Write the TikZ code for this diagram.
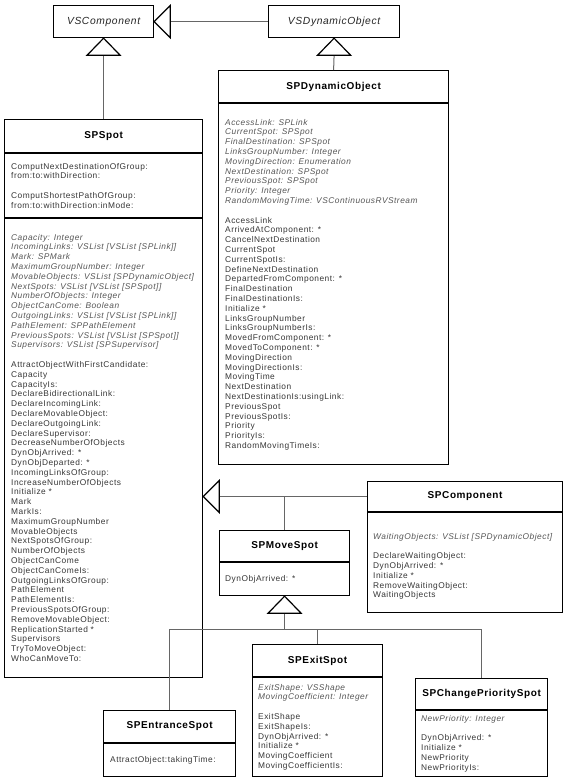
\documentclass[tikz,border=0pt]{standalone}
\usepackage{fontspec}
\setmainfont{Liberation Sans}[LetterSpace=6]
\usetikzlibrary{calc}
\definecolor{attrc}{HTML}{555555}
\definecolor{opc}{HTML}{363636}
\definecolor{connc}{HTML}{666666}
\begin{document}
\begin{tikzpicture}[x=1pt,y=-1pt,
  cbox/.style={draw=black, line width=1.2pt, fill=white, inner sep=0pt, anchor=north west},
  ctitle/.style={font=\fontsize{10}{12}\selectfont\bfseries, inner sep=0pt},
  vtitle/.style={font=\fontsize{10.3}{12}\selectfont\itshape, text=black!85},
  atxt/.style={font=\fontsize{8.35}{9.8}\selectfont\itshape, text=attrc, align=left, anchor=north west, inner sep=0pt},
  otxt/.style={font=\fontsize{8.35}{9.8}\selectfont, text=opc, align=left, anchor=north west, inner sep=0pt},
  sepline/.style={draw=black, line width=1.2pt},
  conn/.style={draw=connc, line width=1pt},
  gentri/.style={draw=black, line width=1.2pt, fill=white, line join=miter}
]
\fill[white] (0,0) rectangle (567,780);
\useasboundingbox (0,0) rectangle (567,780);

% VSComponent / VSDynamicObject
\node[cbox, vtitle, minimum width=100pt, minimum height=32pt] (vscomp) at (53,5) {VSComponent};
\node[cbox, vtitle, minimum width=131pt, minimum height=32pt] (vsdyn) at (268,5) {VSDynamicObject};

% SPSpot
\node[cbox, minimum width=198pt, minimum height=558pt] (spspot) at (4,119) {};
\node[ctitle] (spspotT) at ($(spspot.north)+(0,17)$) {SPSpot};
\draw[sepline] ($(spspot.north west)+(0,34)$) -- ($(spspot.north east)+(0,34)$);
\draw[sepline] ($(spspot.north west)+(0,99)$) -- ($(spspot.north east)+(0,99)$);
\node[otxt] (spspotO1) at (11,162) {\strut ComputNextDestinationOfGroup:\\ from:to:withDirection:\\[9.8pt] ComputShortestPathOfGroup:\\ from:to:withDirection:inMode:};
\node[atxt] (spspotA) at (11,233) {\strut Capacity: Integer\\ IncomingLinks: VSList [VSList [SPLink]]\\ Mark: SPMark\\ MaximumGroupNumber: Integer\\ MovableObjects: VSList [SPDynamicObject]\\ NextSpots: VSList [VSList [SPSpot]]\\ NumberOfObjects: Integer\\ ObjectCanCome: Boolean\\ OutgoingLinks: VSList [VSList [SPLink]]\\ PathElement: SPPathElement\\ PreviousSpots: VSList [VSList [SPSpot]]\\ Supervisors: VSList [SPSupervisor]};
\node[otxt] (spspotO2) at (11,360.4) {\strut AttractObjectWithFirstCandidate:\\ Capacity\\ CapacityIs:\\ DeclareBidirectionalLink:\\ DeclareIncomingLink:\\ DeclareMovableObject:\\ DeclareOutgoingLink:\\ DeclareSupervisor:\\ DecreaseNumberOfObjects\\ DynObjArrived: *\\ DynObjDeparted: *\\ IncomingLinksOfGroup:\\ IncreaseNumberOfObjects\\ Initialize *\\ Mark\\ MarkIs:\\ MaximumGroupNumber\\ MovableObjects\\ NextSpotsOfGroup:\\ NumberOfObjects\\ ObjectCanCome\\ ObjectCanComeIs:\\ OutgoingLinksOfGroup:\\ PathElement\\ PathElementIs:\\ PreviousSpotsOfGroup:\\ RemoveMovableObject:\\ ReplicationStarted *\\ Supervisors\\ TryToMoveObject:\\ WhoCanMoveTo:};

% SPDynamicObject
\node[cbox, minimum width=230pt, minimum height=394pt] (spdyn) at (218,70) {};
\node[ctitle] (spdynT) at ($(spdyn.north)+(0,16.5)$) {SPDynamicObject};
\draw[sepline] ($(spdyn.north west)+(0,33)$) -- ($(spdyn.north east)+(0,33)$);
\node[atxt] (spdynA) at (225,118) {\strut AccessLink: SPLink\\ CurrentSpot: SPSpot\\ FinalDestination: SPSpot\\ LinksGroupNumber: Integer\\ MovingDirection: Enumeration\\ NextDestination: SPSpot\\ PreviousSpot: SPSpot\\ Priority: Integer\\ RandomMovingTime: VSContinuousRVStream};
\node[otxt] (spdynO) at (225,216) {\strut AccessLink\\ ArrivedAtComponent: *\\ CancelNextDestination\\ CurrentSpot\\ CurrentSpotIs:\\ DefineNextDestination\\ DepartedFromComponent: *\\ FinalDestination\\ FinalDestinationIs:\\ Initialize *\\ LinksGroupNumber\\ LinksGroupNumberIs:\\ MovedFromComponent: *\\ MovedToComponent: *\\ MovingDirection\\ MovingDirectionIs:\\ MovingTime\\ NextDestination\\ NextDestinationIs:usingLink:\\ PreviousSpot\\ PreviousSpotIs:\\ Priority\\ PriorityIs:\\ RandomMovingTimeIs:};

% SPComponent
\node[cbox, minimum width=195pt, minimum height=131pt] (spcomp) at (367,481) {};
\node[ctitle] (spcompT) at ($(spcomp.north)+(0,15.5)$) {SPComponent};
\draw[sepline] ($(spcomp.north west)+(0,31)$) -- ($(spcomp.north east)+(0,31)$);
\node[atxt] (spcompA) at (373,532) {\strut WaitingObjects: VSList [SPDynamicObject]};
\node[otxt] (spcompO) at (373,551.6) {\strut DeclareWaitingObject:\\ DynObjArrived: *\\ Initialize *\\ RemoveWaitingObject:\\ WaitingObjects};

% SPMoveSpot
\node[cbox, minimum width=130pt, minimum height=65pt] (spmove) at (219,530) {};
\node[ctitle] (spmoveT) at ($(spmove.north)+(0,16)$) {SPMoveSpot};
\draw[sepline] ($(spmove.north west)+(0,32)$) -- ($(spmove.north east)+(0,32)$);
\node[otxt] (spmoveO) at (225,574) {\strut DynObjArrived: *};

% SPEntranceSpot
\node[cbox, minimum width=132pt, minimum height=66pt] (spentr) at (103,710) {};
\node[ctitle] (spentrT) at ($(spentr.north)+(0,16.5)$) {SPEntranceSpot};
\draw[sepline] ($(spentr.north west)+(0,33)$) -- ($(spentr.north east)+(0,33)$);
\node[otxt] (spentrO) at (110,755) {\strut AttractObject:takingTime:};

% SPExitSpot
\node[cbox, minimum width=130pt, minimum height=132pt] (spexit) at (252,644) {};
\node[ctitle] (spexitT) at ($(spexit.north)+(0,16.5)$) {SPExitSpot};
\draw[sepline] ($(spexit.north west)+(0,33)$) -- ($(spexit.north east)+(0,33)$);
\node[atxt] (spexitA) at (258,683) {\strut ExitShape: VSShape\\ MovingCoefficient: Integer};
\node[otxt] (spexitO) at (258,712.4) {\strut ExitShape\\ ExitShapeIs:\\ DynObjArrived: *\\ Initialize *\\ MovingCoefficient\\ MovingCoefficientIs:};

% SPChangePrioritySpot
\node[cbox, minimum width=132pt, minimum height=98pt] (spchange) at (415,678) {};
\node[ctitle] (spchangeT) at ($(spchange.north)+(0,16)$) {SPChangePrioritySpot};
\draw[sepline] ($(spchange.north west)+(0,32)$) -- ($(spchange.north east)+(0,32)$);
\node[atxt] (spchangeA) at (421,714) {\strut NewPriority: Integer};
\node[otxt] (spchangeO) at (421,733.6) {\strut DynObjArrived: *\\ Initialize *\\ NewPriority\\ NewPriorityIs:};

% connectors
\draw[conn] ($(vscomp.east)+(16,0)$) -- (vsdyn.west);
\draw[conn] ($(vscomp.south)+(0,17)$) -- (spspot.north);
\draw[conn] ($(vsdyn.south)+(0,17)$) -- (spdyn.north);
\coordinate (g4) at (spspot.east |- spcompT);
\draw[conn] ($(g4)+(16,0)$) -- (spcomp.west |- g4);
\draw[conn] (spmove.north |- g4) -- (spmove.north);
\coordinate (bus) at ($(spmove.south)+(0,33)$);
\draw[conn] ($(spmove.south)+(0,17)$) -- (bus);
\draw[conn] (spentr.north) |- (bus) -| (spchange.north);
\draw[conn] (spexit.north |- bus) -- (spexit.north);

% generalization triangles
\draw[gentri] (vscomp.east) -- ++(16,-16) -- ++(0,32) -- cycle;
\draw[gentri] (vscomp.south) -- ++(-16.5,17) -- ++(33,0) -- cycle;
\draw[gentri] (vsdyn.south) -- ++(-16.5,17) -- ++(33,0) -- cycle;
\draw[gentri] (g4) -- ++(16,-16) -- ++(0,32) -- cycle;
\draw[gentri] (spmove.south) -- ++(-16.5,17) -- ++(33,0) -- cycle;
\end{tikzpicture}
\end{document}
